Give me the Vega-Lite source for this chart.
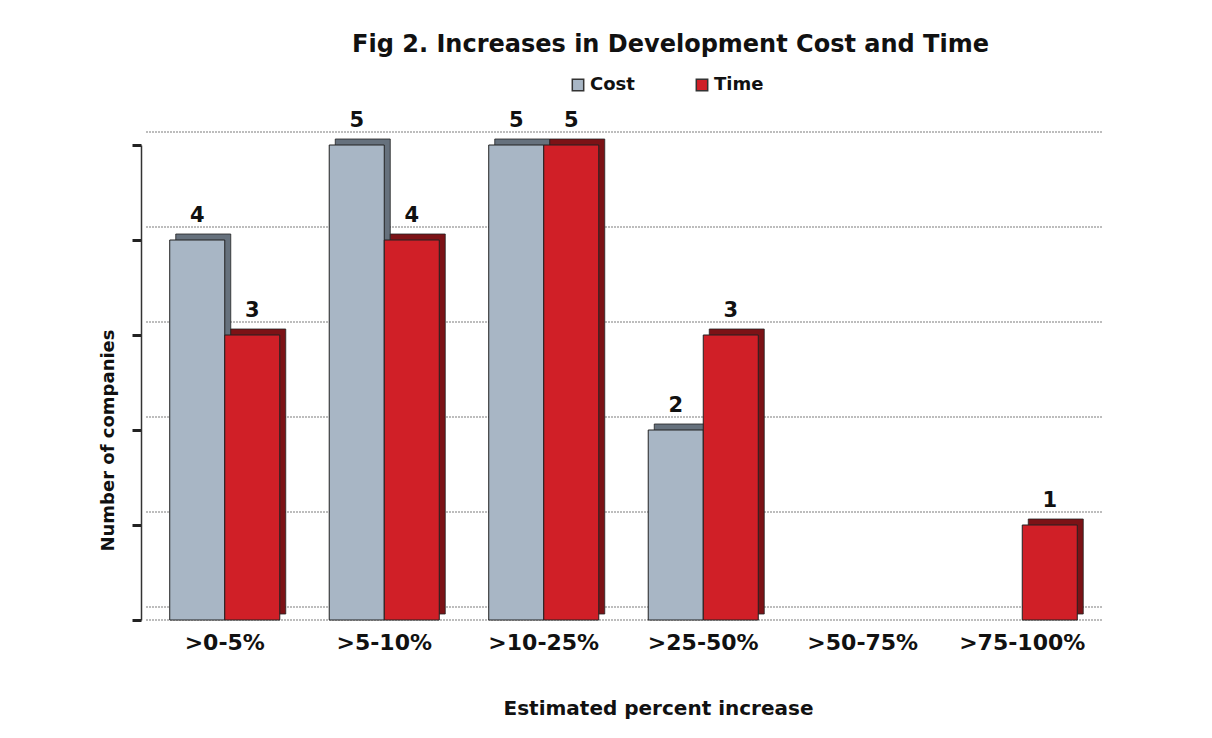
{
  "$schema": "https://vega.github.io/schema/vega-lite/v6.json",
  "width": 957,
  "height": 475,
  "autosize": {"type": "none"},
  "padding": {"left": 145, "top": 145, "right": 110, "bottom": 118},
  "background": "white",
  "config": {
    "view": {"stroke": null},
    "font": "DejaVu Sans",
    "axis": {"grid": false}
  },
  "title": {
    "text": "Fig 2. Increases in Development Cost and Time",
    "font": "DejaVu Sans",
    "fontSize": 24,
    "fontWeight": "bold",
    "color": "#111111",
    "anchor": "middle",
    "frame": "group",
    "offset": 19,
    "dx": 47
  },
  "datasets": {
    "counts": [
      {"range": ">0-5%", "series": "Cost", "count": 4},
      {"range": ">0-5%", "series": "Time", "count": 3},
      {"range": ">5-10%", "series": "Cost", "count": 5},
      {"range": ">5-10%", "series": "Time", "count": 4},
      {"range": ">10-25%", "series": "Cost", "count": 5},
      {"range": ">10-25%", "series": "Time", "count": 5},
      {"range": ">25-50%", "series": "Cost", "count": 2},
      {"range": ">25-50%", "series": "Time", "count": 3},
      {"range": ">50-75%", "series": "Cost", "count": 0},
      {"range": ">50-75%", "series": "Time", "count": 0},
      {"range": ">75-100%", "series": "Cost", "count": 0},
      {"range": ">75-100%", "series": "Time", "count": 1}
    ],
    "levels": [
      {"count": 0}, {"count": 1}, {"count": 2}, {"count": 3}, {"count": 4}, {"count": 5}
    ]
  },
  "layer": [
    {
      "data": {"name": "levels"},
      "mark": {"type": "rule", "stroke": "#a8a8a8", "strokeWidth": 1.6, "strokeDash": [2, 1], "yOffset": -13},
      "encoding": {
        "y": {"field": "count", "type": "quantitative", "scale": {"domain": [0, 5]}, "title": "Number of companies"}
      }
    },
    {
      "data": {"name": "levels"},
      "transform": [{"filter": "datum.count == 0"}],
      "mark": {"type": "rule", "stroke": "#a8a8a8", "strokeWidth": 1.6, "strokeDash": [2, 1]},
      "encoding": {
        "y": {"field": "count", "type": "quantitative", "title": "Number of companies"}
      }
    },
    {
      "data": {"name": "counts"},
      "transform": [{"filter": "datum.count > 0 && datum.series == 'Cost'"}],
      "mark": {"type": "bar", "width": 55, "xOffset": -21.5, "yOffset": -6, "y2Offset": -6, "fill": "#66717d", "stroke": "#222222", "strokeWidth": 0.8},
      "encoding": {
        "x": {"field": "range", "type": "nominal"},
        "y": {"field": "count", "type": "quantitative", "title": "Number of companies"}
      }
    },
    {
      "data": {"name": "counts"},
      "transform": [{"filter": "datum.count > 0 && datum.series == 'Time'"}],
      "mark": {"type": "bar", "width": 55, "xOffset": 33.5, "yOffset": -6, "y2Offset": -6, "fill": "#7c1216", "stroke": "#222222", "strokeWidth": 0.8},
      "encoding": {
        "x": {"field": "range", "type": "nominal"},
        "y": {"field": "count", "type": "quantitative", "title": "Number of companies"}
      }
    },
    {
      "data": {"name": "counts"},
      "transform": [{"filter": "datum.count > 0"}],
      "mark": {"type": "bar", "stroke": "#222222", "strokeWidth": 1},
      "encoding": {
        "x": {
          "field": "range",
          "type": "nominal",
          "sort": [">0-5%", ">5-10%", ">10-25%", ">25-50%", ">50-75%", ">75-100%"],
          "scale": {"domain": [">0-5%", ">5-10%", ">10-25%", ">25-50%", ">50-75%", ">75-100%"], "paddingInner": 0.31, "paddingOuter": 0.155},
          "axis": {
            "title": "Estimated percent increase",
            "domain": false,
            "ticks": false,
            "labelAngle": 0,
            "labelAlign": "center",
            "labelFont": "DejaVu Sans",
            "labelFontSize": 22,
            "labelFontWeight": "bold",
            "labelColor": "#111111",
            "labelPadding": 22,
            "titleFont": "DejaVu Sans",
            "titleFontSize": 20,
            "titleFontWeight": "bold",
            "titleColor": "#111111",
            "titleX": 513,
            "titleY": 78,
            "titleAlign": "center",
            "titleBaseline": "top"
          }
        },
        "xOffset": {
          "field": "series",
          "type": "nominal",
          "scale": {"domain": ["Cost", "Time"], "paddingInner": 0, "paddingOuter": 0}
        },
        "y": {
          "field": "count",
          "type": "quantitative",
          "title": "Number of companies",
          "axis": {
            "values": [0, 1, 2, 3, 4, 5],
            "labels": false,
            "offset": 4,
            "tickSize": 9,
            "tickWidth": 3,
            "tickColor": "#222222",
            "domainColor": "#333333",
            "domainWidth": 1.5,
            "titleFont": "DejaVu Sans",
            "titleFontSize": 18,
            "titleFontWeight": "bold",
            "titleColor": "#111111",
            "titleAngle": -90,
            "titleX": -33,
            "titleY": 295,
            "titleAlign": "center",
            "titleBaseline": "middle"
          }
        },
        "color": {
          "field": "series",
          "type": "nominal",
          "scale": {"domain": ["Cost", "Time"], "range": ["#a8b6c5", "#d01f27"]},
          "legend": {
            "title": null,
            "orient": "none",
            "legendX": 424,
            "legendY": -69,
            "direction": "horizontal",
            "symbolType": "square",
            "symbolSize": 130,
            "symbolStrokeColor": "#333333",
            "symbolStrokeWidth": 1.5,
            "labelFont": "DejaVu Sans",
            "labelFontSize": 18,
            "labelFontWeight": "bold",
            "labelColor": "#111111",
            "labelOffset": 3,
            "columnPadding": 58
          }
        }
      }
    },
    {
      "data": {"name": "counts"},
      "transform": [{"filter": "datum.count > 0"}],
      "mark": {"type": "text", "font": "DejaVu Sans", "fontSize": 21, "fontWeight": "bold", "color": "#111111", "baseline": "alphabetic", "dy": -18},
      "encoding": {
        "x": {"field": "range", "type": "nominal"},
        "xOffset": {"field": "series", "type": "nominal"},
        "y": {"field": "count", "type": "quantitative", "title": "Number of companies"},
        "text": {"field": "count", "type": "quantitative"}
      }
    }
  ]
}
